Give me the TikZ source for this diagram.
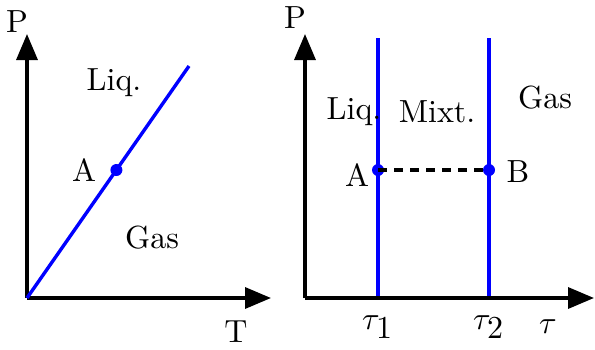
\documentclass[tikz,border=0pt]{standalone}
\usetikzlibrary{arrows.meta}
\begin{document}
\begin{tikzpicture}[x=1pt,y=-1pt,
  axis/.style={line width=3.4pt,-{Triangle[length=26pt,width=21pt]}},
  curve/.style={blue,line width=3.4pt},
  dot/.style={circle,fill=blue,inner sep=0pt,minimum size=12pt},
  lbl/.style={font=\normalsize,scale=3.2,inner sep=0pt}]
\useasboundingbox (0,0) rectangle (595,349);
% left diagram
\coordinate (O1) at (27,298);
\coordinate (Y1) at (27,34);
\coordinate (X1) at (271,298);
\coordinate (L1) at (189,66);
\draw[axis] (O1) -- (Y1);
\draw[axis] (O1) -- (X1);
\draw[curve] (O1) -- (L1);
\node[dot] (A1) at (116.4,170) {};
\node[lbl] (P1) at (17,22) {P};
\node[lbl] (T1) at (236,332) {T};
\node[lbl] (liq1) at (114,83) {Liq.};
\node[lbl] (gas1) at (152,238) {Gas};
\node[lbl] (a1) at (84,170) {A};
% right diagram
\coordinate (O2) at (305,298);
\coordinate (Y2) at (305,34);
\coordinate (X2) at (594,298);
\coordinate (t1b) at (378,298);
\coordinate (t1t) at (378,38);
\coordinate (t2b) at (489,298);
\coordinate (t2t) at (489,38);
\draw[curve] (t1b) -- (t1t);
\draw[curve] (t2b) -- (t2t);
\draw[axis] (O2) -- (Y2);
\draw[axis] (O2) -- (X2);
\node[dot] (A2) at (378,170) {};
\node[dot] (B2) at (489,170) {};
\draw[line width=3.4pt,dash pattern=on 9pt off 7pt] (A2.center) -- (B2.center);
\node[lbl] (P2) at (295,18) {P};
\node[lbl] (liq2) at (354,112) {Liq.};
\node[lbl] (mix2) at (437,112) {Mixt.};
\node[lbl] (gas2) at (545,98) {Gas};
\node[lbl] (a2) at (357,175) {A};
\node[lbl] (b2) at (518,172) {B};
\node[lbl] (tau1) at (378,327) {$\tau_{\textstyle 1}$};
\node[lbl] (tau2) at (489,327) {$\tau_{\textstyle 2}$};
\node[lbl] (tau) at (548,327) {$\tau$};
\end{tikzpicture}
\end{document}
